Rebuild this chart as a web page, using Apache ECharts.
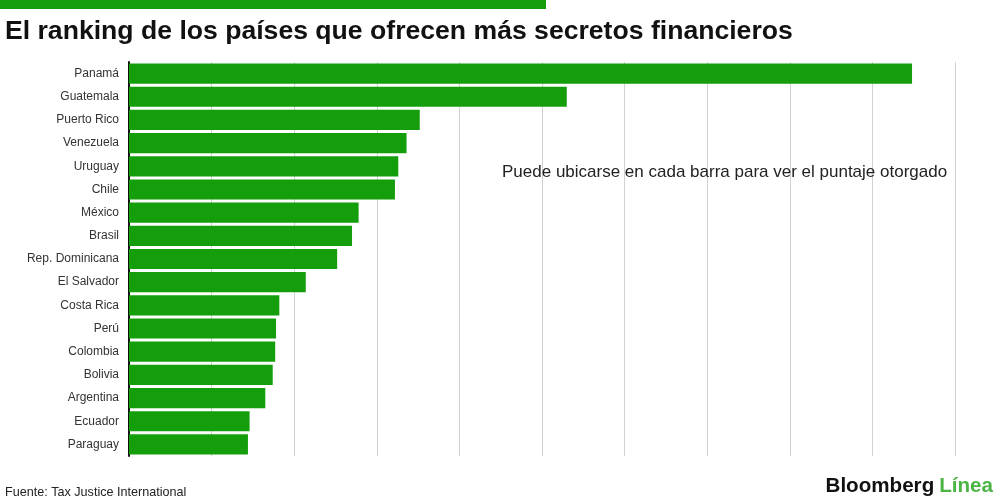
<!DOCTYPE html>
<html>
<head>
<meta charset="utf-8">
<script src="https://cdn.jsdelivr.net/npm/echarts@6/dist/echarts.min.js"></script>
<style>
  html, body { margin: 0; padding: 0; background: #fff; }
  #chart { width: 1000px; height: 500px; }
</style>
</head>
<body>
<div id="chart"></div>
<script>
// datos (puntaje, escala 0-100)
var paises = ['Panamá', 'Guatemala', 'Puerto Rico', 'Venezuela', 'Uruguay', 'Chile', 'México', 'Brasil',
    'Rep. Dominicana', 'El Salvador', 'Costa Rica', 'Perú', 'Colombia', 'Bolivia', 'Argentina', 'Ecuador', 'Paraguay'];
var puntajes = [94.8, 53.0, 35.2, 33.6, 32.6, 32.2, 27.8, 27.0, 25.2, 21.4, 18.2, 17.8, 17.7, 17.4, 16.5, 14.6, 14.4];

var verde = '#149e0c';

var myChart = echarts.init(document.getElementById('chart'));

var option = {
    backgroundColor: '#fff',
    animation: false,
    title: [{
        text: 'El ranking de los países que ofrecen más secretos financieros',
        left: 0,
        top: 13,
        textStyle: {
            fontFamily: 'Liberation Sans',
            fontWeight: 'bold',
            fontSize: 26.6,
            color: '#111'
        }
    }, {
        text: 'Puede ubicarse en cada barra para ver el puntaje otorgado',
        left: 497,
        top: 159,
        textStyle: {
            fontFamily: 'Liberation Sans',
            fontWeight: 'normal',
            fontSize: 17,
            color: '#222'
        }
    }, {
        text: 'Fuente: Tax Justice International',
        left: 0,
        top: 481,
        textStyle: {
            fontFamily: 'Liberation Sans',
            fontWeight: 'normal',
            fontSize: 12.6,
            color: '#222'
        }
    }, {
        text: '{a|Bloomberg} {b|Línea}',
        right: 2,
        top: 471,
        textStyle: {
            rich: {
                a: { fontFamily: 'Liberation Sans', fontWeight: 'bold', fontSize: 20.6, color: '#111' },
                b: { fontFamily: 'Liberation Sans', fontWeight: 'bold', fontSize: 20.6, color: '#4cb444' }
            }
        }
    }],
    graphic: [{
        type: 'rect',
        left: 0,
        top: 0,
        shape: { width: 546, height: 9 },
        style: { fill: verde }
    }],
    grid: {
        left: 129,
        right: 45,
        top: 62,
        bottom: 44
    },
    xAxis: {
        type: 'value',
        min: 0,
        max: 100,
        interval: 10,
        axisLabel: { show: false },
        axisTick: { show: false },
        axisLine: { show: false },
        splitLine: { lineStyle: { color: '#d2d2d2', width: 1 } }
    },
    yAxis: {
        type: 'category',
        data: paises,
        inverse: true,
        axisTick: { show: false },
        axisLine: { lineStyle: { color: '#111', width: 2 } },
        axisLabel: {
            margin: 10,
            fontFamily: 'Liberation Sans',
            fontSize: 12,
            color: '#333'
        }
    },
    series: [{
        name: 'Puntaje',
        type: 'bar',
        data: puntajes,
        barCategoryGap: '13%',
        itemStyle: { color: verde }
    }]
};
myChart.setOption(option);
</script>
</body>
</html>
